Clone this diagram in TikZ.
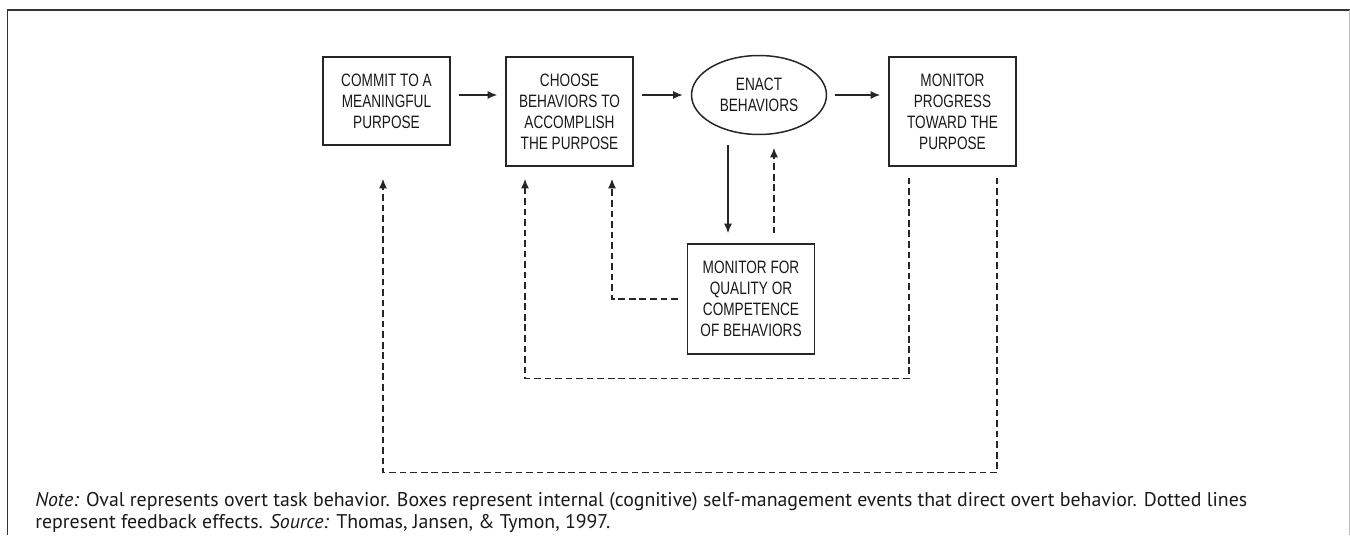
\documentclass[tikz,border=0pt]{standalone}
\usepackage{fontspec}
\usetikzlibrary{arrows.meta,shapes.geometric,positioning}
\newfontfamily\stagefont[FakeStretch=0.76]{Liberation Sans}
\newfontfamily\notefont{PT Sans}

\begin{document}
\begin{tikzpicture}[x=0.02cm,y=-0.02cm]
    \tikzset{stage/.style = {shape=rectangle,draw=black!85,line width=0.85pt,minimum width=2.54cm,minimum height=2.18cm,inner sep=0pt,align=center,text=black!90,font=\stagefont\fontsize{10.2}{12}\selectfont}}
    \tikzset{act/.style = {stage,shape=ellipse,minimum width=2.7cm,minimum height=1.58cm}}
    \tikzset{flow/.style = {draw=black!85,line width=0.85pt,-{Latex[length=5.5pt,width=4.6pt]}}}
    \tikzset{feedback/.style = {flow,dash pattern=on 3.8pt off 2.2pt}}
    \useasboundingbox (0,0) rectangle (1350,535);

    % Frame, open at the bottom
    \draw[black!80,line width=1.1pt] (7.5,535) -- (7.5,10) -- (1350,10);
    \draw[black!25,line width=0.5pt] (1349,10) -- (1349,535);

    % Stages of the sequence
    \node[stage,minimum height=1.76cm] (commit) at (386.5,101) {COMMIT TO A\\MEANINGFUL\\PURPOSE};
    \node[stage] (choose) at (569.5,111.5) {CHOOSE\\BEHAVIORS TO\\ACCOMPLISH\\THE PURPOSE};
    \node[act] (enact) at (759,95) {ENACT\\BEHAVIORS};
    \node[stage] (progress) at (952.5,111.5) {MONITOR\\PROGRESS\\TOWARD THE\\PURPOSE};
    \node[stage,minimum height=2.2cm] (quality) at (751,299) {MONITOR FOR\\QUALITY OR\\COMPETENCE\\OF BEHAVIORS};

    % Forward arrows
    \foreach \source/\target in {commit/choose, choose/enact, enact/progress}
        \draw[flow,shorten <=0.16cm,shorten >=0.16cm] (\source.east |- enact.center) -- (\target.west |- enact.center);
    \draw[flow,shorten <=0.2cm,shorten >=0.2cm] ([xshift=-0.46cm]quality.north |- enact.south) -- ([xshift=-0.46cm]quality.north);

    % Feedback effects
    \draw[feedback,shorten <=0.2cm] ([xshift=0.46cm]quality.north) -- ([xshift=0.46cm,yshift=-0.25cm]quality.north |- enact.south);
    \draw[feedback] ([xshift=-0.18cm]quality.west) -| ([xshift=0.85cm,yshift=-0.24cm]choose.south);
    \draw[feedback] ([xshift=-0.87cm,yshift=-0.22cm]progress.south) -- ++(0,-4.02cm) -| ([xshift=-0.89cm,yshift=-0.24cm]choose.south);
    \draw[feedback] ([xshift=0.89cm,yshift=-0.22cm]progress.south) -- ++(0,-5.9cm) -| ([xshift=-0.07cm,yshift=-0.66cm]commit.south);

    % Note under the figure
    \node[anchor=base west,align=left,inner sep=0pt,text=black!90,font=\notefont\fontsize{11.3}{12}\selectfont] (note) at (35,528)
        {\textit{Note:} Oval represents overt task behavior. Boxes represent internal (cognitive) self-management events that direct overt behavior. Dotted lines\\
         represent feedback effects. \textit{Source:} Thomas, Jansen, \& Tymon, 1997.};
\end{tikzpicture}
\end{document}
